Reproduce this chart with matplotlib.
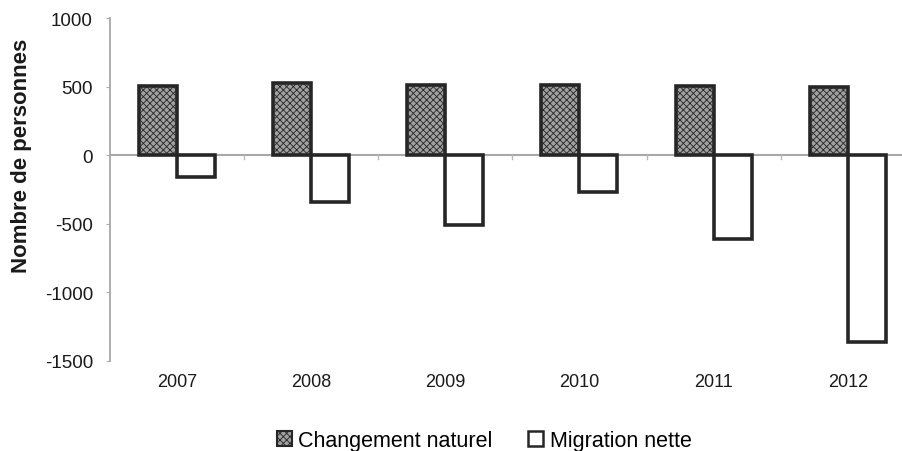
import matplotlib
matplotlib.use("Agg")
import matplotlib.pyplot as plt
import numpy as np
from matplotlib.patches import Patch

plt.rcParams['font.family'] = ['Liberation Sans', 'DejaVu Sans']
plt.rcParams['hatch.linewidth'] = 0.6

years = ["2007", "2008", "2009", "2010", "2011", "2012"]
changement_naturel = [505, 528, 512, 512, 505, 500]
migration_nette = [-156, -342, -507, -265, -611, -1364]
yticks = [-1500, -1000, -500, 0, 500, 1000]

fig = plt.figure(figsize=(9.02, 4.52), dpi=100)
ax = fig.add_axes([0.1215, 0.1998, 0.893, 0.7575])

x = np.arange(len(years))
w = 0.283
ax.bar(x - w/2, changement_naturel, w, color='#a0a0a0', edgecolor='#262626',
       linewidth=2.6, hatch='xxxxx', zorder=3)
ax.bar(x + w/2, migration_nette, w, color='white', edgecolor='#262626',
       linewidth=2.6, zorder=3)

ax.set_xlim(-0.5, len(years) - 0.5)
ax.set_ylim(-1500, 1000)
ax.set_yticks(yticks)
ax.set_yticklabels([str(v) for v in yticks], fontsize=13.5, color='#1a1a1a')

ax.set_xticks(x)
ax.set_xticklabels(years, fontsize=13, color='#1a1a1a')
ax.tick_params(axis='x', length=0, pad=9)
ax.tick_params(axis='y', length=3, color='#b0b0b0', pad=9, direction='out')

for s in ['top', 'right', 'bottom']:
    ax.spines[s].set_visible(False)
ax.spines['left'].set_color('#a8a8a8')
ax.spines['left'].set_linewidth(1.3)
ax.axhline(0, color='#a8a8a8', linewidth=1.5, zorder=2)
for b in np.arange(0.5, len(years) - 0.5, 1.0):
    ax.plot([b, b], [0, -25], color='#b8b8b8', linewidth=1, zorder=2)

ax.set_ylabel("Nombre de personnes", fontsize=16, fontweight='bold', color='#1a1a1a')
ax.yaxis.set_label_coords(-0.096, 0.602)

handles = [Patch(facecolor='#a0a0a0', edgecolor='#262626', hatch='xxxxx', linewidth=1.5),
           Patch(facecolor='white', edgecolor='#262626', linewidth=1.8)]
fig.legend(handles, ["Changement naturel", "Migration nette"], loc='center',
           bbox_to_anchor=(0.537, 0.024), ncol=2, frameon=False, fontsize=15.5,
           handlelength=0.7, handleheight=0.7, handletextpad=0.3, columnspacing=1.65)

fig.savefig("out.png", dpi=100)
